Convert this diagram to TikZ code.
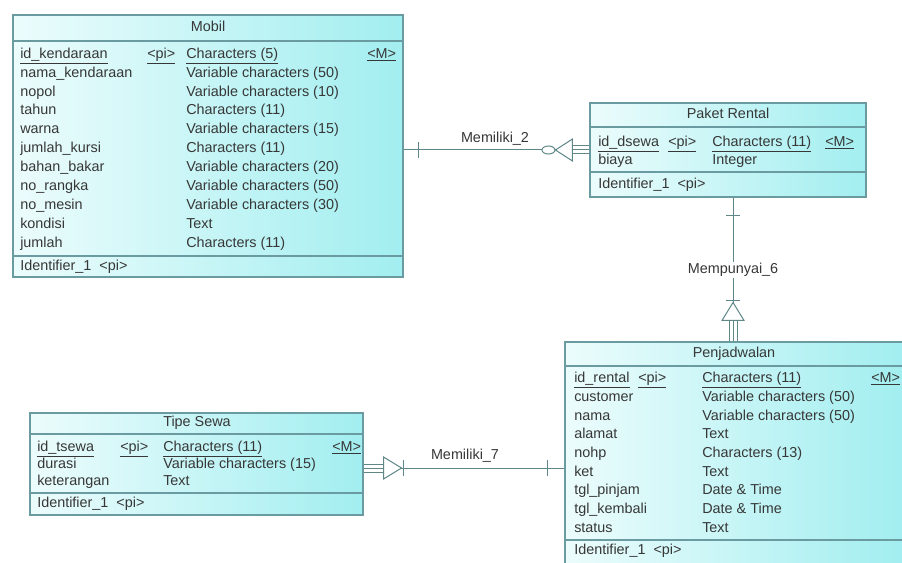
\documentclass[tikz,border=0pt]{standalone}
\usepackage{fontspec}
\setmainfont{Liberation Sans}
\usetikzlibrary{fit,calc}

\definecolor{boxL}{RGB}{236,252,252}
\definecolor{boxR}{RGB}{162,238,240}
\definecolor{boxLine}{RGB}{105,155,160}
\definecolor{linkLine}{RGB}{95,135,135}
\definecolor{txt}{RGB}{55,55,55}

\tikzset{
  ebox/.style={draw=boxLine, line width=0.8pt, left color=boxL, right color=boxR, inner sep=0pt},
  sepline/.style={draw=boxLine, line width=0.8pt},
  etext/.style={anchor=west, inner sep=0pt, text height=7.8pt, text depth=2.2pt,
                font=\fontsize{10.8}{12}\selectfont, text=txt},
  ttext/.style={etext, anchor=center},
  link/.style={draw=linkLine, line width=0.75pt},
  lmark/.style={draw=linkLine, line width=0.75pt, fill=white},
  llabel/.style={inner sep=1pt, font=\fontsize{10.8}{12}\selectfont, text=txt},
}

% attribute rows: prefix, x of name, x of type, y of first row, row step, list name/type
\newcommand{\attrrows}[6]{%
  \foreach \an/\at [count=\k] in {#6} {
    \node[etext] (#1-n\k) at (#2, {#4+(\k-1)*#5}) {\an};
    \node[etext] (#1-t\k) at (#3, {#4+(\k-1)*#5}) {\at};
  }}

\begin{document}
\begin{tikzpicture}[x=0.75pt, y=-0.75pt]
\useasboundingbox (0,0) rectangle (902,563);
\fill[white] (0,0) rectangle (902,563);
\clip (0,0) rectangle (902,563);

% ---------------- Mobil ----------------
\coordinate (mobil-nw) at (13,15);
\coordinate (mobil-se) at (403,277);
\node[ebox, fit=(mobil-nw)(mobil-se)] (mobil) {};
\draw[sepline] (13,41) -- (403,41);
\draw[sepline] (13,256) -- (403,256);
\node[ttext] (mobil-title) at (208,28) {Mobil};
\node[etext] (mobil-n0) at (20,54.5) {\underline{id\_kendaraan}};
\node[etext] (mobil-p0) at (147,54.5) {\underline{<pi>}};
\node[etext] (mobil-t0) at (186,54.5) {\underline{Characters (5)}};
\node[etext] (mobil-m0) at (367,54.5) {\underline{<M>}};
\attrrows{mobil}{20}{186}{73.4}{18.9}{%
  nama\_kendaraan/Variable characters (50),
  nopol/Variable characters (10),
  tahun/Characters (11),
  warna/Variable characters (15),
  jumlah\_kursi/Characters (11),
  bahan\_bakar/Variable characters (20),
  no\_rangka/Variable characters (50),
  no\_mesin/Variable characters (30),
  kondisi/Text,
  jumlah/Characters (11)}
\node[etext] (mobil-id) at (20,267) {Identifier\_1\ \ <pi>};

% ---------------- Paket Rental ----------------
\coordinate (paket-nw) at (590,103);
\coordinate (paket-se) at (866,197);
\node[ebox, fit=(paket-nw)(paket-se)] (paket) {};
\draw[sepline] (590,127) -- (866,127);
\draw[sepline] (590,172) -- (866,172);
\node[ttext] (paket-title) at (728,115) {Paket Rental};
\node[etext] (paket-n0) at (598,143) {\underline{id\_dsewa}};
\node[etext] (paket-p0) at (668,143) {\underline{<pi>}};
\node[etext] (paket-t0) at (712,143) {\underline{Characters (11)}};
\node[etext] (paket-m0) at (825,143) {\underline{<M>}};
\attrrows{paket}{598}{712}{161}{18}{biaya/Integer}
\node[etext] (paket-id) at (598,185) {Identifier\_1\ \ <pi>};

% ---------------- Penjadwalan ----------------
\coordinate (penj-nw) at (565,342);
\coordinate (penj-se) at (903,575);
\node[ebox, fit=(penj-nw)(penj-se)] (penj) {};
\draw[sepline] (565,366) -- (903,366);
\draw[sepline] (565,540) -- (903,540);
\node[ttext] (penj-title) at (734,354) {Penjadwalan};
\node[etext] (penj-n0) at (574,379) {\underline{id\_rental}};
\node[etext] (penj-p0) at (638,379) {\underline{<pi>}};
\node[etext] (penj-t0) at (702,379) {\underline{Characters (11)}};
\node[etext] (penj-m0) at (871,379) {\underline{<M>}};
\attrrows{penj}{574}{702}{397.7}{18.7}{%
  customer/Variable characters (50),
  nama/Variable characters (50),
  alamat/Text,
  nohp/Characters (13),
  ket/Text,
  tgl\_pinjam/Date \& Time,
  tgl\_kembali/Date \& Time,
  status/Text}
\node[etext] (penj-id) at (574,551) {Identifier\_1\ \ <pi>};

% ---------------- Tipe Sewa ----------------
\coordinate (tipe-nw) at (30,413);
\coordinate (tipe-se) at (363,515);
\node[ebox, fit=(tipe-nw)(tipe-se)] (tipe) {};
\draw[sepline] (30,434) -- (363,434);
\draw[sepline] (30,493) -- (363,493);
\node[ttext] (tipe-title) at (197,423) {Tipe Sewa};
\node[etext] (tipe-n0) at (37,448) {\underline{id\_tsewa}};
\node[etext] (tipe-p0) at (120,448) {\underline{<pi>}};
\node[etext] (tipe-t0) at (163,448) {\underline{Characters (11)}};
\node[etext] (tipe-m0) at (332,448) {\underline{<M>}};
\attrrows{tipe}{37}{163}{465}{17}{%
  durasi/Variable characters (15),
  keterangan/Text}
\node[etext] (tipe-id) at (37,504) {Identifier\_1\ \ <pi>};

% ---------------- Memiliki_2 : Mobil -- Paket Rental ----------------
\coordinate (y150) at (0,150);
\coordinate (m2a) at (mobil.east |- y150);
\coordinate (m2b) at (paket.west |- y150);
\draw[link] (m2a) -- (m2b);
\draw[link] ($(m2a)+(15,-8)$) -- ($(m2a)+(15,8)$);
\foreach \d in {-4,0,4}
  \draw[link] ($(m2b)+(-17,\d)$) -- ($(m2b)+(0,\d)$);
\draw[lmark] ($(m2b)+(-17,-11)$) -- ($(m2b)+(-17,11)$) -- ($(m2b)+(-34,0)$) -- cycle;
\draw[lmark] ($(m2b)+(-41,0)$) ellipse [x radius=6.5, y radius=4];
\node[llabel] (m2-label) at (495,139) {Memiliki\_2};

% ---------------- Mempunyai_6 : Paket Rental -- Penjadwalan ----------------
\coordinate (x733) at (733,0);
\coordinate (m6a) at (paket.south -| x733);
\coordinate (m6b) at (penj.north -| x733);
\draw[link] (m6a) -- (m6b);
\draw[link] ($(m6a)+(-7,18)$) -- ($(m6a)+(7,18)$);
\foreach \d in {-4,0,4}
  \draw[link] ($(m6b)+(\d,-21)$) -- ($(m6b)+(\d,0)$);
\draw[lmark] ($(m6b)+(-11,-21)$) -- ($(m6b)+(11,-21)$) -- ($(m6b)+(0,-39)$) -- cycle;
\draw[link] ($(m6b)+(-7,-41)$) -- ($(m6b)+(7,-41)$);
\node[llabel, fill=white] (m6-label) at (733,270) {Mempunyai\_6};

% ---------------- Memiliki_7 : Tipe Sewa -- Penjadwalan ----------------
\coordinate (y468) at (0,468);
\coordinate (m7a) at (tipe.east |- y468);
\coordinate (m7b) at (penj.west |- y468);
\draw[link] (m7a) -- (m7b);
\foreach \d in {-4,0,4}
  \draw[link] ($(m7a)+(0,\d)$) -- ($(m7a)+(20,\d)$);
\draw[lmark] ($(m7a)+(20,-11)$) -- ($(m7a)+(20,11)$) -- ($(m7a)+(38,0)$) -- cycle;
\draw[link] ($(m7a)+(40,-8)$) -- ($(m7a)+(40,8)$);
\draw[link] ($(m7b)+(-17,-8)$) -- ($(m7b)+(-17,8)$);
\node[llabel] (m7-label) at (465,456) {Memiliki\_7};
\end{tikzpicture}
\end{document}
